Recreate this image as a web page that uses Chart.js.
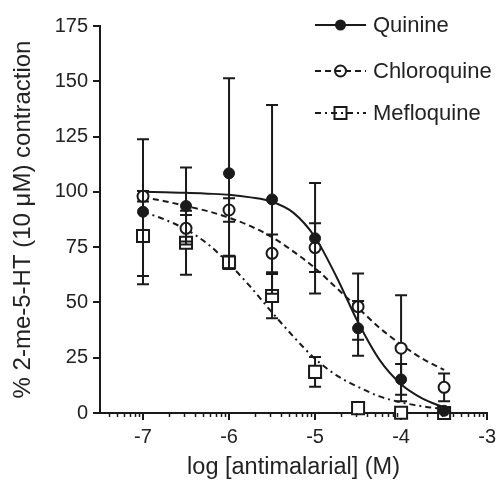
<!DOCTYPE html>
<html>
<head>
<meta charset="utf-8">
<script src="https://cdn.jsdelivr.net/npm/chart.js@4.4.1/dist/chart.umd.min.js"></script>
<style>
  html, body { margin: 0; padding: 0; background: #fff; }
  #wrap { width: 501px; height: 482px; }
</style>
</head>
<body>
<div id="wrap"><canvas id="chart" width="501" height="482"></canvas></div>
<script>
// log [antimalarial] (M) doses
const doses = [-7, -6.5, -6, -5.5, -5, -4.5, -4, -3.5];

// % contraction, mean and error
const quinine = [91, 93.6, 108.4, 96.6, 79, 38.3, 15.2, 1];
const quinineErr = [32.8, 17.4, 43, 42.7, 25, 12.4, 7, 0];
const chloroquine = [98, 83.5, 91.8, 72.2, 74.8, 48.1, 29.3, 11.6];
const chloroquineErr = [2.4, 6, 5.3, 8.5, 11, 15, 24, 6.3];
const mefloquine = [80, 77, 68.1, 52.9, 18.6, 2.2, 0.1, 0];
const mefloquineErr = [18, 14.5, 3, 10, 6.7, 0, 0, 0];

// fitted curves, every 0.25 log unit
const fitX = [-7, -6.75, -6.5, -6.25, -6, -5.75, -5.5, -5.25, -5, -4.75, -4.5, -4.25, -4, -3.75, -3.5];
const quinineFit = [100, 99.8, 99.6, 99.2, 98.7, 97.5, 95.5, 90.5, 79.5, 61.5, 41, 24, 13, 6.5, 2.5];
const chloroquineFit = [97.5, 95.8, 93.6, 91.3, 88.3, 84.5, 79.5, 73, 65.5, 56.5, 47.5, 38.5, 31, 24.5, 19.5];
const mefloquineFit = [91, 87.5, 83, 76.5, 67.5, 57, 45.5, 34.5, 24.5, 17, 11.8, 7.5, 4.8, 3, 1.8];

const xTicks = [-7, -6, -5, -4, -3];
const yTicks = [0, 25, 50, 75, 100, 125, 150, 175];

const FONT = "'Liberation Sans', Arial, Helvetica, sans-serif";
const INK = "#1a1a1a";
const TXT = "#222";

const pts = (xs, ys) => xs.map((x, i) => ({ x: x, y: ys[i] }));

// error bars, drawn just under each point set
const errorBars = {
  id: "errorBars",
  beforeDatasetDraw(chart, args) {
    const ds = chart.data.datasets[args.index];
    if (!ds.errors) return;
    const ctx = chart.ctx, xs = chart.scales.x, ys = chart.scales.y;
    ctx.save();
    ctx.strokeStyle = INK;
    ctx.lineWidth = 2;
    ds.data.forEach((p, i) => {
      const e = ds.errors[i];
      if (!e) return;
      const px = xs.getPixelForValue(p.x);
      const top = ys.getPixelForValue(p.y + e);
      const bot = ys.getPixelForValue(p.y - e);
      ctx.beginPath();
      ctx.moveTo(px, top); ctx.lineTo(px, bot);
      ctx.moveTo(px - 6, top); ctx.lineTo(px + 6, top);
      ctx.moveTo(px - 6, bot); ctx.lineTo(px + 6, bot);
      ctx.stroke();
    });
    ctx.restore();
  }
};

// log minor ticks on the x axis
const minorTicks = {
  id: "minorTicks",
  afterDraw(chart) {
    const ctx = chart.ctx, xs = chart.scales.x;
    const y0 = chart.chartArea.bottom;
    ctx.save();
    ctx.strokeStyle = INK;
    ctx.lineWidth = 1.5;
    for (let d = -8; d <= -4; d++) {
      for (let k = 2; k <= 9; k++) {
        const v = d + Math.log10(k);
        if (v <= xs.min || v >= xs.max) continue;
        const px = Math.round(xs.getPixelForValue(v)) + 0.5;
        ctx.beginPath();
        ctx.moveTo(px, y0);
        ctx.lineTo(px, y0 + 4);
        ctx.stroke();
      }
    }
    ctx.restore();
  }
};

// legend: line sample with marker, then label
const legendBox = {
  id: "legendBox",
  afterDraw(chart) {
    const ctx = chart.ctx;
    const rows = [
      { label: "Quinine", y: 25, dash: [], marker: "dot" },
      { label: "Chloroquine", y: 71, dash: [6, 4], marker: "circle" },
      { label: "Mefloquine", y: 113, dash: [6, 4, 2, 4], marker: "square" }
    ];
    ctx.save();
    rows.forEach(r => {
      ctx.strokeStyle = INK;
      ctx.lineWidth = 2;
      ctx.setLineDash(r.dash);
      ctx.beginPath();
      ctx.moveTo(315, r.y); ctx.lineTo(366, r.y);
      ctx.stroke();
      ctx.setLineDash([]);
      ctx.beginPath();
      if (r.marker === "dot") {
        ctx.fillStyle = INK;
        ctx.arc(340.5, r.y, 5.5, 0, Math.PI * 2);
        ctx.fill();
      } else if (r.marker === "circle") {
        ctx.arc(340.5, r.y, 5.5, 0, Math.PI * 2);
        ctx.stroke();
      } else {
        ctx.rect(334.5, r.y - 6, 12, 12);
        ctx.stroke();
      }
      ctx.fillStyle = TXT;
      ctx.font = "22px " + FONT;
      ctx.textBaseline = "middle";
      ctx.textAlign = "left";
      ctx.fillText(r.label, 373, r.y + 1);
    });
    ctx.restore();
  }
};

new Chart(document.getElementById("chart"), {
  type: "scatter",
  data: {
    datasets: [
      {
        label: "Quinine",
        data: pts(doses, quinine),
        errors: quinineErr,
        pointStyle: "circle",
        pointRadius: 5.5,
        pointBackgroundColor: INK,
        pointBorderColor: INK,
        pointBorderWidth: 1,
        showLine: false,
        clip: false
      },
      {
        label: "Chloroquine",
        data: pts(doses, chloroquine),
        errors: chloroquineErr,
        pointStyle: "circle",
        pointRadius: 5.5,
        pointBackgroundColor: "#fff",
        pointBorderColor: INK,
        pointBorderWidth: 2,
        showLine: false,
        clip: false
      },
      {
        label: "Mefloquine",
        data: pts(doses, mefloquine),
        errors: mefloquineErr,
        pointStyle: "rect",
        pointRadius: 8.5,
        pointBackgroundColor: "#fff",
        pointBorderColor: INK,
        pointBorderWidth: 2,
        showLine: false,
        clip: false
      },
      {
        label: "Quinine fit",
        data: pts(fitX, quinineFit),
        showLine: true,
        pointRadius: 0,
        borderColor: INK,
        borderWidth: 2,
        cubicInterpolationMode: "monotone"
      },
      {
        label: "Chloroquine fit",
        data: pts(fitX, chloroquineFit),
        showLine: true,
        pointRadius: 0,
        borderColor: INK,
        borderWidth: 2,
        borderDash: [6, 4],
        cubicInterpolationMode: "monotone"
      },
      {
        label: "Mefloquine fit",
        data: pts(fitX, mefloquineFit),
        showLine: true,
        pointRadius: 0,
        borderColor: INK,
        borderWidth: 2,
        borderDash: [6, 4, 2, 4],
        cubicInterpolationMode: "monotone"
      }
    ]
  },
  options: {
    responsive: false,
    animation: false,
    devicePixelRatio: 1,
    layout: { padding: { left: 0, right: 13, top: 26, bottom: 0 } },
    plugins: {
      legend: { display: false },
      tooltip: { enabled: false }
    },
    scales: {
      x: {
        type: "linear",
        min: -7.5,
        max: -3,
        afterBuildTicks: s => { s.ticks = xTicks.map(v => ({ value: v })); },
        afterFit: s => { s.height = 69; },
        grid: { drawOnChartArea: false, drawTicks: true, tickLength: 7, tickColor: INK, lineWidth: 2 },
        border: { display: true, color: INK, width: 2 },
        ticks: { color: TXT, font: { family: FONT, size: 20 }, padding: 5, maxRotation: 0 },
        title: { display: true, text: "log [antimalarial] (M)", color: TXT, font: { family: FONT, size: 23.5 }, padding: { top: 1, bottom: 0 } }
      },
      y: {
        type: "linear",
        min: 0,
        max: 175,
        afterBuildTicks: s => { s.ticks = yTicks.map(v => ({ value: v })); },
        afterFit: s => { s.width = 100; },
        grid: { drawOnChartArea: false, drawTicks: true, tickLength: 7, tickColor: INK, lineWidth: 2 },
        border: { display: true, color: INK, width: 2 },
        ticks: { color: TXT, font: { family: FONT, size: 20 }, padding: 5 },
        title: { display: true, text: "% 2-me-5-HT (10 μM) contraction", color: TXT, font: { family: FONT, size: 24 }, padding: { top: 9, bottom: 0 } }
      }
    }
  },
  plugins: [errorBars, minorTicks, legendBox]
});
</script>
</body>
</html>
